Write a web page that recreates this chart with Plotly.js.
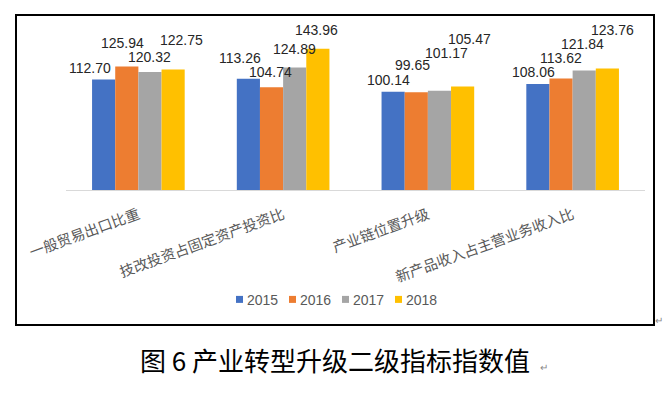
<!DOCTYPE html>
<html>
<head>
<meta charset="utf-8">
<script src="https://cdn.plot.ly/plotly-3.0.1.min.js"></script>
<style>
  html, body { margin: 0; padding: 0; background: #fff; }
  #wrap { position: relative; width: 670px; height: 396px; }
  #chart { width: 670px; height: 396px; }
  #frame { position: absolute; left: 15px; top: 14px; width: 636px; height: 308px;
           border: 2px solid #000; pointer-events: none; }
</style>
</head>
<body>
<div id="wrap">
  <div id="chart"></div>
  <div id="frame"></div>
</div>
<script>
// ---- data ----
const categories = ["一般贸易出口比重", "技改投资占固定资产投资比", "产业链位置升级", "新产品收入占主营业务收入比"];
const seriesNames = ["2015", "2016", "2017", "2018"];
const v2015 = [112.70, 113.26, 100.14, 108.06];
const v2016 = [125.94, 104.74, 99.65, 113.62];
const v2017 = [120.32, 124.89, 101.17, 121.84];
const v2018 = [122.75, 143.96, 105.47, 123.76];
const caption = "图 6 产业转型升级二级指标指数值";

// ---- styling ----
const colors = ["#4472C4", "#ED7D31", "#A5A5A5", "#FFC000"];
const seriesValues = [v2015, v2016, v2017, v2018];
// manual label nudges (px) per series, per category, as in the original chart
const labelDX = [[-14, -8, -5, -4], [-4.4, -1, -4, 0], [-0.6, 0, 7.5, -1.5], [8.3, -1.5, 6.5, 5.5]];
const labelDY = [[11, 21, 11.5, 11.5], [23.5, 15.5, 27, 21], [14.5, 18, 38, 26], [30, 19, 47.5, 38.5]];

const bargap = 0.36;
const barW = (1 - bargap) / seriesNames.length;
const plotL = 66, plotW = 579;   // plot area in px (matches margins)
const legendStartPx = 236, legendStepPx = 53;

const traces = seriesNames.map((name, j) => ({
  type: "bar",
  name: name,
  x: categories,
  y: seriesValues[j],
  marker: { color: colors[j] },
  hoverinfo: "x+y+name"
}));

const annotations = [];
const shapes = [];
seriesValues.forEach((vals, j) => {
  vals.forEach((v, i) => {
    annotations.push({
      x: i + (j - (seriesNames.length - 1) / 2) * barW,
      y: v,
      xref: "x", yref: "y",
      text: v.toFixed(2),
      showarrow: false,
      xshift: labelDX[j][i],
      yshift: labelDY[j][i],
      font: { family: "Liberation Sans, Arial, sans-serif", size: 14, color: "#262626" }
    });
  });
});

// compact legend (square key + series name), built from seriesNames / colors
const legendY = -0.70; // paper units below the axis
seriesNames.forEach((name, j) => {
  const px = legendStartPx + j * legendStepPx;
  const xp = (px - plotL) / plotW;
  shapes.push({
    type: "rect", xref: "paper", yref: "paper",
    xsizemode: "pixel", ysizemode: "pixel",
    xanchor: xp, yanchor: legendY,
    x0: 0, x1: 7, y0: -3, y1: 4,
    fillcolor: colors[j], line: { width: 0 }
  });
  annotations.push({
    xref: "paper", yref: "paper", x: xp, y: legendY,
    xshift: 9, xanchor: "left", yanchor: "middle",
    text: name, showarrow: false,
    font: { family: "Liberation Sans, Arial, sans-serif", size: 14, color: "#595959" }
  });
});

// paragraph marks
annotations.push({ xref: "paper", yref: "paper", x: (653 - plotL) / plotW, y: -0.83, text: "↵", showarrow: false,
  font: { size: 10, color: "#888" }, xanchor: "left", yanchor: "middle" });
annotations.push({ xref: "paper", yref: "paper", x: (538 - plotL) / plotW, y: -1.125, text: "↵", showarrow: false,
  font: { size: 10, color: "#888" }, xanchor: "left", yanchor: "middle" });

const layout = {
  width: 670, height: 396,
  margin: { l: plotL, r: 670 - plotL - plotW, t: 33, b: 206 },
  paper_bgcolor: "#fff", plot_bgcolor: "#fff",
  barmode: "group",
  bargap: bargap,
  bargroupgap: 0,
  showlegend: false,
  xaxis: {
    type: "category",
    showline: true, linecolor: "#D9D9D9", linewidth: 1,
    showgrid: false, zeroline: false, ticks: "",
    tickangle: -20,
    ticklabelstandoff: 10,
    tickfont: { family: "Noto Sans CJK SC, sans-serif", size: 14.5, color: "#595959" }
  },
  yaxis: {
    range: [0, 160], visible: false, showgrid: false, zeroline: false
  },
  title: {
    text: caption,
    x: (335 - 0) / 670, xanchor: "center", xref: "container",
    y: 1 - 362 / 396, yref: "container", yanchor: "middle",
    font: { family: "Noto Sans CJK SC, sans-serif", size: 26, color: "#000" }
  },
  shapes: shapes,
  annotations: annotations
};

Plotly.newPlot("chart", traces, layout, { displayModeBar: false, staticPlot: true });
</script>
</body>
</html>
